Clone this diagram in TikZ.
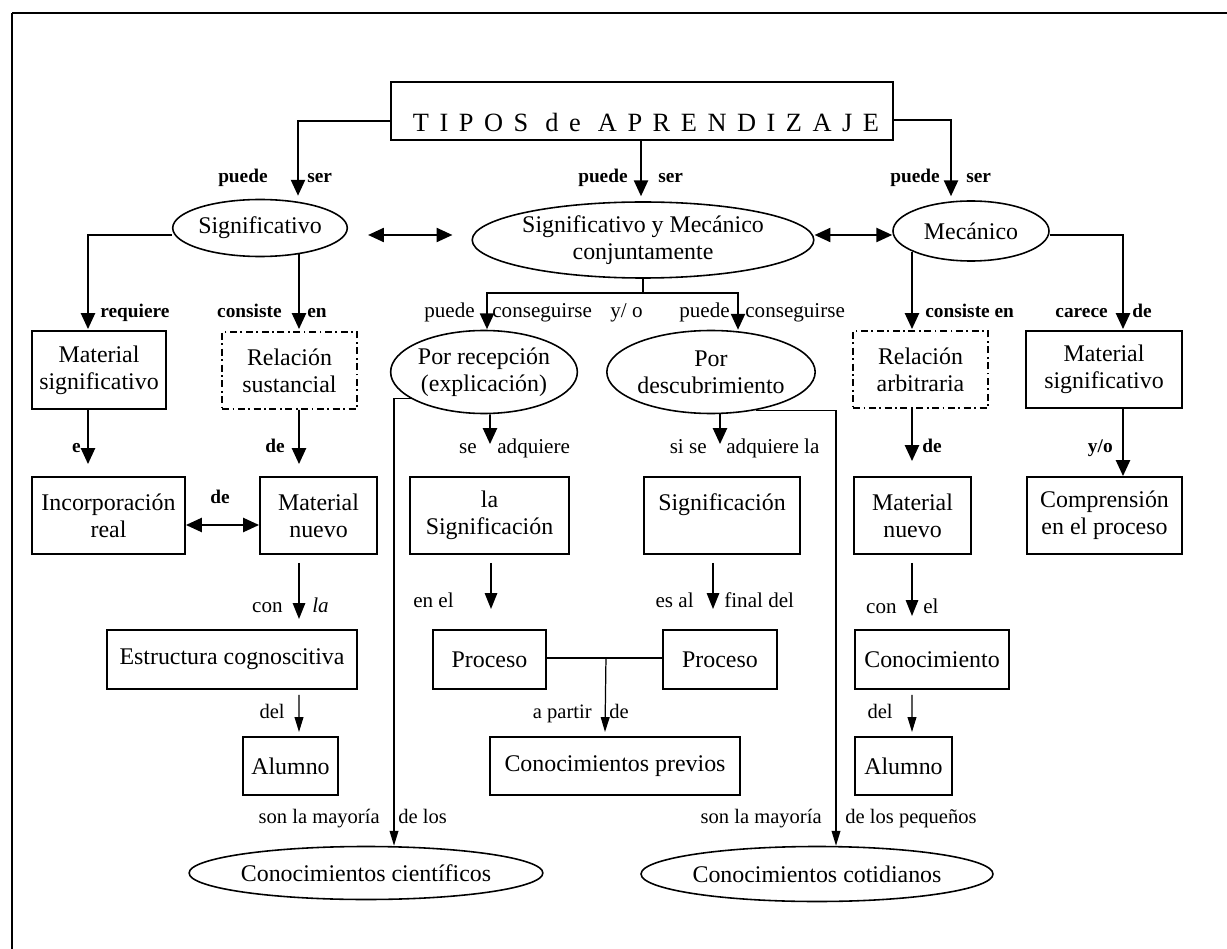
\documentclass[tikz,border=0pt]{standalone}
\usepackage{fontspec}
\setmainfont{Liberation Serif}
\usetikzlibrary{shapes.geometric,arrows.meta,calc}
\newlength\pxu
\setlength\pxu{0.02cm}
\begin{document}
\begin{tikzpicture}[x=0.02cm,y=-0.02cm,
  wh/.style 2 args={minimum width=#1*\pxu, minimum height=#2*\pxu},
  nodefont/.style={font=\fontsize{13.6}{15.3}\selectfont},
  box/.style={draw, rectangle, line width=1.1pt, inner sep=0pt, align=center, nodefont},
  dbox/.style={box, dash pattern=on 4pt off 2pt on 1pt off 2pt},
  ell/.style={draw, ellipse, line width=0.9pt, inner sep=0pt, align=center, nodefont},
  titlefont/.style={font=\fontsize{15}{18}\selectfont\addfontfeature{LetterSpace=40}, inner sep=0pt},
  lab/.style={font=\bfseries\fontsize{11}{13}\selectfont, inner sep=0pt},
  labm/.style={font=\fontsize{12}{14}\selectfont, inner sep=0pt},
  labs/.style={font=\fontsize{11.7}{14}\selectfont, inner sep=0pt},
  thk/.style={line width=1pt},
  arrk/.style={line width=1.1pt, -{Triangle[length=9pt,width=8pt]}},
  darrk/.style={line width=1.1pt, {Triangle[length=9pt,width=8pt]}-{Triangle[length=9pt,width=8pt]}},
  arrm/.style={line width=0.9pt, -{Triangle[length=9pt,width=7pt]}},
  arrt/.style={line width=0.7pt, -{Triangle[length=8.5pt,width=5pt]}}
]
\useasboundingbox (0,0) rectangle (1227,949);

% frame
\draw[line width=1.5pt] (12,13) -- (1227,13);
\draw[line width=1pt] (12,13) -- (12,949);

% title
\node[box, wh={502}{58}] (title) at (642,111) {};
\node[titlefont, anchor=base] (titletext) at (646,132) {TIPOS de APRENDIZAJE};

% first level
\node[ell, wh={154}{57}] (sig) at (260,228) {Significativo};
\node[ell, wh={312}{76}] (sigmec) at (643,240) {Significativo y Mecánico\\conjuntamente};
\node[ell, wh={156}{60}] (mec) at (971,231) {Mecánico};

% second level
\node[box, wh={134}{78}] (matsig) at (99,370) {Material\\significativo};
\node[dbox, wh={135}{77}] (relsus) at (289.5,370.5) {Relación\\sustancial};
\node[ell, wh={182}{83}] (recep) at (484,372) {Por recepción\\(explicación)};
\node[ell, wh={177}{83}] (descub) at (711,372) {Por\\descubrimiento};
\node[dbox, wh={135}{77}] (relarb) at (920.5,369.5) {Relación\\arbitraria};
\node[box, wh={156}{77}] (matsigR) at (1104,369.5) {Material\\significativo};

% third level
\node[box, wh={153}{77}] (incorp) at (108.5,515.5) {Incorporación\\real};
\node[box, wh={117}{77}] (matnuevoL) at (318.5,515.5) {Material\\nuevo};
\node[box, wh={159}{77}] (laSig) at (489.5,515.5) {la\\Significación};
\node[box, wh={156}{77}] (signif) at (722,515.5) {Significación\\\mbox{}};
\node[box, wh={117}{77}] (matnuevoR) at (912.5,515.5) {Material\\nuevo};
\node[box, wh={155}{77}] (compren) at (1104.5,515.5) {Comprensión\\en el proceso};

% fourth level
\node[box, wh={250}{59}] (estruct) at (232,659.5) {Estructura cognoscitiva};
\node[box, wh={113}{59}] (procL) at (489.5,659.5) {Proceso};
\node[box, wh={114}{59}] (procR) at (720,659.5) {Proceso};
\node[box, wh={154}{59}] (conocim) at (932,659.5) {Conocimiento};

% fifth level
\node[box, wh={95}{58}] (alumnoL) at (290.5,766) {Alumno};
\node[box, wh={250}{58}] (previos) at (615,766) {Conocimientos previos};
\node[box, wh={97}{58}] (alumnoR) at (903.5,766) {Alumno};

% final ellipses
\node[ell, wh={286}{53}] (cientif) at (366,873) {Conocimientos científicos};
\node[ell, wh={308}{55}] (cotid) at (817,874) {Conocimientos cotidianos};

% connectors from the title
\draw[arrk] ($(title.west)+(0,10)$) -| ($(sig.north)+(38,-3)$);
\draw[arrk] ($(title.south)+(-1,0)$) -- ($(sigmec.north)+(-2,-5)$);
\draw[arrk] ($(title.east)+(0,9)$) -| ($(mec.north)+(-20,-4)$);

% links between the three types
\draw[darrk] ($(sig.east)+(20,7)$) -- ($(sigmec.west)+(-19,-5)$);
\draw[darrk] ($(sigmec.east)+(0,-5)$) -- ($(mec.west)+(0,4)$);

% significativo branch
\draw[arrk] ($(sig.west)+(0,7)$) -| ($(matsig.north)+(-11,-1)$);
\draw[arrk] ($(sig.south)+(39,-4)$) -- ($(relsus.north)+(9.5,-2)$);
\draw[arrk] ($(matsig.south)+(-11,0)$) -- ($(incorp.north)+(-20.5,-12)$);
\draw[arrk] ($(relsus.south)+(9.5,0)$) -- ($(matnuevoL.north)+(-19.5,-12)$);
\draw[darrk] ($(incorp.east)+(0,9.5)$) -- ($(matnuevoL.west)+(0,9.5)$);
\draw[arrm] ($(matnuevoL.south)+(-19.5,8)$) -- ($(estruct.north)+(67,-10)$);
\draw[arrt] ($(estruct.south)+(67,5)$) -- ($(alumnoL.north)+(8.5,-4)$);

% combined branch
\draw[thk] (sigmec.south) -- ($(sigmec.south)+(0,14)$);
\draw[arrk] ($(sigmec.south)+(0,14)$) -| ($(recep.north)+(3,-0.5)$);
\draw[arrk] ($(sigmec.south)+(0,14)$) -| ($(descub.north)+(27,0)$);
\draw[arrk] ($(recep.south)+(6,0)$) -- ($(laSig.north)+(0.5,-32)$);
\draw[arrk] ($(descub.south)+(9,0)$) -- ($(signif.north)+(-2,-32)$);
\draw[arrm] ($(laSig.south)+(1.5,8)$) -- ($(procL.north)+(1.5,-20)$);
\draw[arrm] ($(signif.south)+(-9,8)$) -- ($(procR.north)+(-7,-20)$);
\draw[thk] ($(procL.east)+(0,-1.5)$) -- ($(procR.west)+(0,-1.5)$);
\draw[arrt] ($(procL.east)+(59,-1.5)$) -- ($(previos.north)+(-10,-4)$);
\draw[arrt] (recep.200) -| ($(cientif.north)+(28,0)$);
\draw[arrt] (descub.-40) -| ($(cotid.north)+(19,0)$);

% mecanico branch
\draw[arrk] ($(mec.south)+(-59,-10)$) -- ($(relarb.north)+(-8.5,-1)$);
\draw[arrk] ($(mec.east)+(0,4)$) -| ($(matsigR.north)+(19,-1)$);
\draw[arrk] ($(relarb.south)+(-8.5,0)$) -- ($(matnuevoR.north)+(-0.5,-15)$);
\draw[arrk] ($(matsigR.south)+(19,0)$) -- ($(compren.north)+(18.5,0)$);
\draw[arrm] ($(matnuevoR.south)+(-0.5,8)$) -- ($(conocim.north)+(-20,-13)$);
\draw[arrt] ($(conocim.south)+(-20,5)$) -- ($(alumnoR.north)+(8.5,-4)$);

% connector labels
\node[lab, anchor=base east] (ps1a) at (268,183) {puede};
\node[lab, anchor=base west] (ps1b) at (307,183) {ser};
\node[lab, anchor=base east] (ps2a) at (628,183) {puede};
\node[lab, anchor=base west] (ps2b) at (658,183) {ser};
\node[lab, anchor=base east] (ps3a) at (940,183) {puede};
\node[lab, anchor=base west] (ps3b) at (966,183) {ser};
\node[lab, anchor=base west] (lreq) at (100,318) {requiere};
\node[lab, anchor=base east] (lcon1) at (282,318) {consiste};
\node[lab, anchor=base west] (lcon2) at (307,318) {en};
\node[labm, anchor=base east] (lpc1a) at (475,318) {puede};
\node[labm, anchor=base west] (lpc1b) at (492,318) {conseguirse};
\node[labm, anchor=base west] (lyo) at (610,318) {y/ o};
\node[labm, anchor=base east] (lpc2a) at (730,318) {puede};
\node[labm, anchor=base west] (lpc2b) at (745,318) {conseguirse};
\node[lab, anchor=base west] (lcon3) at (925,318) {consiste en};
\node[lab, anchor=base east] (lcar) at (1108,318) {carece};
\node[lab, anchor=base west] (lcar2) at (1132,318) {de};
\node[lab, anchor=base east] (le) at (81,452) {e};
\node[lab, anchor=base east] (lde1) at (285,452) {de};
\node[labm, anchor=base east] (lse) at (477,453) {se};
\node[labm, anchor=base west] (ladq) at (497,453) {adquiere};
\node[labm, anchor=base east] (lsise) at (707,453) {si se};
\node[labm, anchor=base west] (ladq2) at (726,453) {adquiere la};
\node[lab, anchor=base west] (lde2) at (922,452) {de};
\node[lab, anchor=base east] (lyo2) at (1113,452) {y/o};
\node[lab, anchor=base] (lde3) at (220,503) {de};
\node[labm, anchor=base east] (lcon4) at (283,612) {con};
\node[labm, anchor=base west] (lla) at (312,612) {\textit{la}};
\node[labm, anchor=base east] (lenel) at (454,607) {en el};
\node[labm, anchor=base east] (lesal) at (694,607) {es al};
\node[labm, anchor=base west] (lfin) at (724,607) {final del};
\node[labm, anchor=base east] (lcon5) at (897,613) {con};
\node[labm, anchor=base west] (lel) at (923,613) {el};
\node[labs, anchor=base east] (ldel1) at (285,718) {del};
\node[labs, anchor=base east] (lapar) at (592,718) {a partir};
\node[labs, anchor=base west] (lde4) at (609,718) {de};
\node[labs, anchor=base east] (ldel2) at (893,718) {del};
\node[labs, anchor=base east] (lsm1) at (380,823) {son la mayoría};
\node[labs, anchor=base west] (ldl1) at (398,823) {de los};
\node[labs, anchor=base east] (lsm2) at (822,823) {son la mayoría};
\node[labs, anchor=base west] (ldl2) at (845,823) {de los pequeños};
\end{tikzpicture}
\end{document}
